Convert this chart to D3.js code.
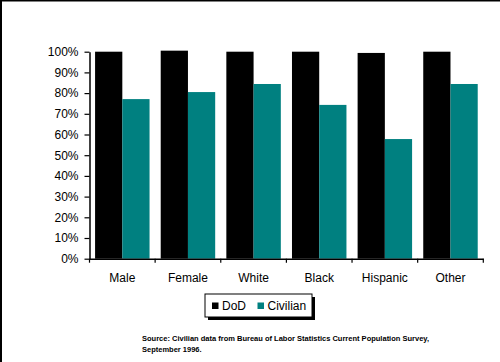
<!DOCTYPE html>
<html>
<head>
<meta charset="utf-8">
<script src="https://cdn.jsdelivr.net/npm/d3@7"></script>
<style>
  html, body { margin: 0; padding: 0; background: #fff; }
  svg { display: block; }
  text { font-family: Arial, "Liberation Sans", sans-serif; }
</style>
</head>
<body>
<div id="chart"></div>
<script>
const categories = ["Male", "Female", "White", "Black", "Hispanic", "Other"];
const seriesNames = ["DoD", "Civilian"];
const dodValues = [100, 100.5, 100, 100, 99.4, 100];
const civilianValues = [77.1, 80.5, 84.4, 74.3, 57.8, 84.4];
const seriesColors = ["#000000", "#008080"];
const yTicks = [0, 10, 20, 30, 40, 50, 60, 70, 80, 90, 100];
const sourceLines = [
  "Source:  Civilian data from Bureau of Labor Statistics Current Population Survey,",
  "September 1996."
];

(function () {
const W = 500, H = 362;
const svg = d3.select("#chart").append("svg").attr("width", W).attr("height", H);

// frame: top and left edges
svg.append("line").attr("x1", 0).attr("x2", W).attr("y1", 0.5).attr("y2", 0.5)
  .attr("stroke", "#000").attr("stroke-width", 2);
svg.append("line").attr("x1", 1).attr("x2", 1).attr("y1", 0).attr("y2", H)
  .attr("stroke", "#000").attr("stroke-width", 2);

const pLeft = 89.5, pRight = 483.3, pTop = 51.7, pBottom = 258.7;

const x = d3.scaleBand().domain(categories).range([pLeft, pRight]).padding(0);
const bw = x.bandwidth();
const xs = d3.scaleBand().domain(seriesNames).range([bw * 0.085, bw * 0.915]).padding(0);
const y = d3.scaleLinear().domain([0, 100]).range([pBottom, pTop]);

const data = categories.map((c, i) => ({ cat: c, vals: [dodValues[i], civilianValues[i]] }));

const groups = svg.append("g").selectAll("g").data(data).join("g")
  .attr("transform", d => `translate(${x(d.cat)},0)`);
groups.selectAll("rect").data(d => d.vals.map((v, j) => ({ s: seriesNames[j], v, j })))
  .join("rect")
  .attr("x", d => xs(d.s))
  .attr("width", xs.bandwidth())
  .attr("y", d => y(d.v))
  .attr("height", d => y(0) - y(d.v))
  .attr("fill", d => seriesColors[d.j]);

// y axis
const yAxis = svg.append("g").attr("transform", `translate(${pLeft},0)`)
  .call(d3.axisLeft(y).tickValues(yTicks).tickFormat(d => d + "%").tickSize(5).tickSizeOuter(0));
yAxis.select(".domain").attr("stroke", "#000").attr("stroke-width", 1.5);
yAxis.selectAll(".tick line").attr("stroke", "#000").attr("stroke-width", 1.2);
yAxis.selectAll(".tick text").attr("font-size", 12).attr("fill", "#000").attr("x", -11)
  .attr("font-family", "Arial, 'Liberation Sans', sans-serif");

// x axis
const xAxis = svg.append("g").attr("transform", `translate(0,${pBottom})`)
  .call(d3.axisBottom(x).tickSize(0).tickSizeOuter(0).tickPadding(15));
xAxis.select(".domain").attr("stroke", "#000").attr("stroke-width", 1.5);
xAxis.selectAll(".tick text").attr("font-size", 12).attr("fill", "#000")
  .attr("font-family", "Arial, 'Liberation Sans', sans-serif");
const bounds = categories.map(c => x(c)).concat([x(categories[categories.length - 1]) + bw]);
xAxis.selectAll("line.bound").data(bounds).join("line").attr("class", "bound")
  .attr("x1", d => d).attr("x2", d => d).attr("y1", 0).attr("y2", 4)
  .attr("stroke", "#000").attr("stroke-width", 1.2);

// legend
const lg = svg.append("g");
const lx = 205, ly = 294, lw = 107, lh = 23;
lg.append("rect").attr("x", lx + 3).attr("y", ly + 3).attr("width", lw).attr("height", lh).attr("fill", "#000");
lg.append("rect").attr("x", lx).attr("y", ly).attr("width", lw).attr("height", lh)
  .attr("fill", "#fff").attr("stroke", "#000").attr("stroke-width", 1);
const legendX = [212, 257.5];
seriesNames.forEach((s, j) => {
  lg.append("rect").attr("x", legendX[j]).attr("y", ly + 8.5).attr("width", 6.5).attr("height", 6.5)
    .attr("fill", seriesColors[j]);
  lg.append("text").attr("x", legendX[j] + 10).attr("y", ly + 16).attr("font-size", 12)
    .attr("fill", "#000").text(s);
});

// source note
svg.append("g").selectAll("text").data(sourceLines).join("text")
  .attr("x", 142).attr("y", (d, i) => 341 + i * 11)
  .attr("font-size", 7.5).attr("font-weight", "bold").attr("fill", "#000")
  .text(d => d);
})();
</script>
</body>
</html>
